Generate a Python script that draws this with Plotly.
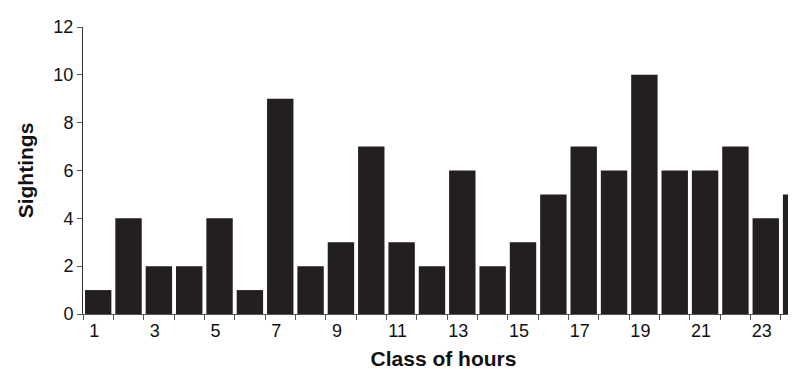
import plotly.graph_objects as go

hours = list(range(1, 25))
sightings = [1, 4, 2, 2, 4, 1, 9, 2, 3, 7, 3, 2, 6, 2, 3, 5, 7, 6, 10, 6, 6, 7, 4, 5]
x_tick_labels = [str(h) for h in range(1, 24, 2)]
y_ticks = [0, 2, 4, 6, 8, 10, 12]

fig = go.Figure(go.Bar(x=hours, y=sightings, marker=dict(color="#231f20", line=dict(width=0))))

font = "Liberation Sans, Arial, sans-serif"
fig.update_layout(
    width=796, height=369,
    margin=dict(l=75, r=0, t=19, b=63),
    paper_bgcolor="white", plot_bgcolor="white",
    bargap=0.13,
    showlegend=False,
    font=dict(family=font, size=18, color="#111"),
)
fig.update_xaxes(
    range=[0.5, 24.26],
    tickvals=[int(t) for t in x_tick_labels], ticktext=x_tick_labels,
    ticks="outside", ticklen=0, ticklabelshift=-4,
    minor=dict(tick0=0.5, dtick=1, ticks="outside", ticklen=5, tickcolor="#555"),
    showline=True, linecolor="#555", linewidth=1,
    showgrid=False, zeroline=False,
    tickfont=dict(size=18),
    title=dict(text="<b>Class of hours</b>", font=dict(size=21), standoff=11),
)
fig.update_yaxes(
    range=[0, 12], tickvals=y_ticks,
    ticks="outside", ticklen=5, tickcolor="#555",
    showline=True, linecolor="#333", linewidth=1,
    showgrid=False, zeroline=False,
    tickfont=dict(size=18),
    title=dict(text="<b>Sightings</b>", font=dict(size=21), standoff=14),
)
fig.write_html("out.html")
